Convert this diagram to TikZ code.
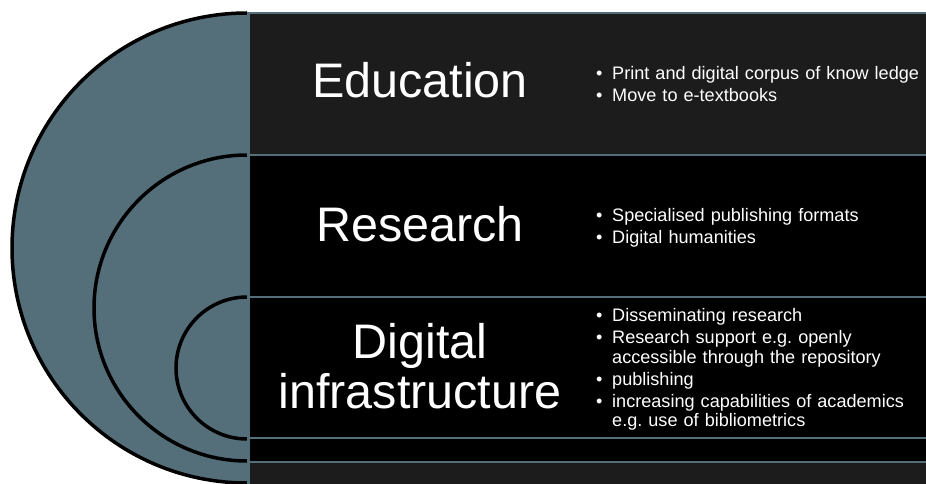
\documentclass[tikz,border=0pt]{standalone}
\usepackage{fontspec}
\setmainfont{Liberation Sans}
\usetikzlibrary{positioning}

\definecolor{slate}{RGB}{84,110,122}
\definecolor{darkband}{RGB}{28,28,28}

\newcommand{\bpoint}[1]{\hangindent=16pt\hangafter=1\noindent\makebox[16pt][l]{\textbullet}#1\par}

\tikzset{
  half/.style={fill=slate},
  rim/.style={line width=3.5pt, black},
  band/.style={draw=slate, line width=2.5pt},
  title/.style={text=white, font=\fontsize{48.5}{50}\selectfont, align=center, inner sep=0pt},
  points/.style={text=white, font=\fontsize{18.1}{19.5}\selectfont\frenchspacing\setlength{\parskip}{2.5pt},
    text width=330pt, align=left, inner sep=0pt, anchor=north west}
}

\begin{document}
\begin{tikzpicture}[x=1pt, y=1pt]
  \useasboundingbox (0,0) rectangle (926,483);

  \begin{scope}
    \clip (0,0) rectangle (926,483);
    % nested half discs
    \fill[half] (247,470) arc (90:270:235) -- cycle;
    \draw[rim] (247,470) arc (90:270:235);
    \fill[half] (247,328) arc (90:270:153) -- cycle;
    \draw[rim] (247,328) arc (90:270:153);
    \fill[half] (247,186) arc (90:270:71) -- cycle;
    \draw[rim] (247,186) arc (90:270:71);

    % bands
    \filldraw[band, fill=darkband] (248.5,470) rectangle (940,328);
    \filldraw[band, fill=black] (248.5,328) rectangle (940,186);
    \filldraw[band, fill=black] (248.5,186) rectangle (940,45);
    \filldraw[band, fill=black] (248.5,45) rectangle (940,21);
    \filldraw[band, fill=darkband] (248.5,21) rectangle (940,-10);
  \end{scope}

  \node[title, anchor=base] (edutitle) at (420,385) {Education};
  \node[title, anchor=base] (restitle) at (420,242) {Research};
  \node[title, anchor=north] (infratitle) at (420,160) {Digital\\infrastructure};

  \node[points] (edupoints) at (596,416.5) {%
    \bpoint{Print and digital corpus of know ledge}
    \bpoint{Move to e-textbooks}};
  \node[points] (respoints) at (596,274.5) {%
    \bpoint{Specialised publishing formats}
    \bpoint{Digital humanities}};
  \node[points] (infrapoints) at (596,174.5) {%
    \bpoint{Disseminating research}
    \bpoint{Research support e.g. openly\newline accessible through the repository}
    \bpoint{publishing}
    \bpoint{increasing capabilities of academics\newline e.g. use of bibliometrics}};
\end{tikzpicture}
\end{document}
